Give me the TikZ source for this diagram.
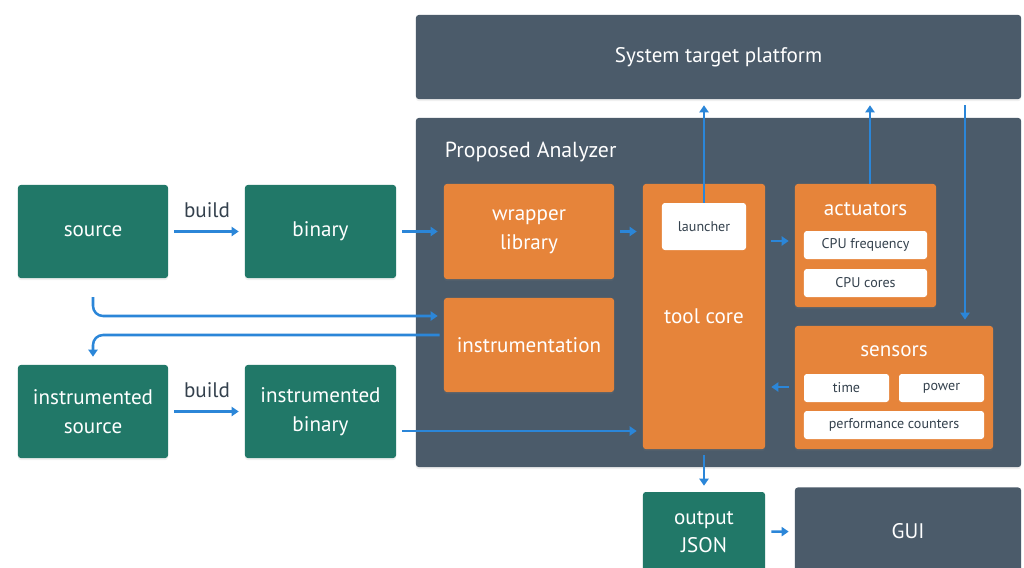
\documentclass[tikz,border=0pt]{standalone}
\usepackage{fontspec}
\setmainfont{PT Sans}
\usetikzlibrary{arrows.meta, positioning, shadows}

\definecolor{boxgreen}{HTML}{217868}
\definecolor{boxslate}{HTML}{4B5B6A}
\definecolor{boxorange}{HTML}{E6843A}
\definecolor{flowblue}{HTML}{2B86D8}
\definecolor{darktext}{HTML}{34414D}

\tikzset{
    box/.style={rounded corners=2pt, inner sep=0pt, align=center, text=white,
        font=\fontsize{15}{20.5}\selectfont,
        drop shadow={opacity=0.12, shadow xshift=0pt, shadow yshift=-1.5pt}},
    greenbox/.style={box, fill=boxgreen},
    slatebox/.style={box, fill=boxslate},
    orangebox/.style={box, fill=boxorange},
    tagbox/.style={rounded corners=2pt, inner sep=0pt, fill=white, text=darktext,
        font=\fontsize{10}{12}\selectfont, minimum height=0.7cm},
    flow/.style={draw=flowblue, line width=1.8pt, -{Triangle[length=5pt, width=6.5pt]},
        shorten <=0.15cm, shorten >=0.15cm},
}

\begin{document}
\begin{tikzpicture}[x=0.025cm, y=-0.025cm]
    \useasboundingbox (0,0) rectangle (1024,567);

    % target platform and analyzer frame
    \node[slatebox, minimum width=15.125cm, minimum height=2.1cm] (platform) at (718.5,57) {System target platform};
    \node[slatebox, minimum width=15.125cm, minimum height=8.725cm] (analyzer) at (718.5,292.5) {};
    \node[anchor=west, text=white, font=\fontsize{15.5}{20}\selectfont] (antitle) at (440,152) {Proposed Analyzer};

    % inputs
    \node[greenbox, minimum width=3.75cm, minimum height=2.325cm] (source) at (93,231.5) {source};
    \node[greenbox, minimum width=3.775cm, minimum height=2.325cm] (binary) at (320.5,231.5) {binary};
    \node[greenbox, minimum width=3.75cm, minimum height=2.325cm] (isource) at (93,411.5) {instrumented\\source};
    \node[greenbox, minimum width=3.775cm, minimum height=2.325cm] (ibinary) at (320.5,411.5) {instrumented\\binary};
    \node[text=darktext, font=\fontsize{15}{20}\selectfont] (build1) at (207,210) {build};
    \node[text=darktext, font=\fontsize{15}{20}\selectfont] (build2) at (207,390) {build};

    % analyzer parts
    \node[orangebox, minimum width=4.25cm, minimum height=2.375cm] (wrapper) at (529,231.5) {wrapper\\library};
    \node[orangebox, minimum width=4.25cm, minimum height=2.35cm] (instr) at (529,345) {instrumentation};
    \node[orangebox, minimum width=3.05cm, minimum height=6.625cm] (core) at (704,316.5) {tool core};
    \node[tagbox, minimum width=2.1cm, minimum height=1.175cm] (launcher) at (704,226.5) {launcher};

    \node[orangebox, minimum width=3.525cm, minimum height=3.075cm] (actuators) at (865.5,245.5) {};
    \node[text=white, font=\fontsize{15}{20}\selectfont] (acttitle) at (865.5,209) {actuators};
    \node[tagbox, minimum width=3.075cm] (cpufreq) at (865.5,245) {CPU frequency};
    \node[tagbox, minimum width=3.075cm] (cpucores) at (865.5,283) {CPU cores};

    \node[orangebox, minimum width=4.95cm, minimum height=3.075cm] (sensors) at (894,387.5) {};
    \node[text=white, font=\fontsize{15}{20}\selectfont] (sentitle) at (894,351) {sensors};
    \node[tagbox, minimum width=2.125cm] (time) at (846.5,388) {time};
    \node[tagbox, minimum width=2.125cm] (power) at (941.5,388) {power};
    \node[tagbox, minimum width=4.5cm] (perf) at (894,425) {performance counters};

    % outputs
    \node[greenbox, minimum width=3.05cm, minimum height=2.0cm] (output) at (704,532) {output\\JSON};
    \node[slatebox, minimum width=5.65cm, minimum height=2.175cm] (gui) at (908,531) {GUI};

    % connectors
    \draw[flow] (source) -- (binary);
    \draw[flow] (isource) -- (ibinary);
    \draw[flow] (binary) -- (wrapper);
    \draw[flow] (wrapper.east) -- (core.west |- wrapper.east);
    \draw[flow] (ibinary.east |- 0,431) -- (core.west |- 0,431);
    \draw[flow, rounded corners=0.25cm, shorten <=0.47cm] (source.south) |- (instr.west |- 0,316);
    \draw[flow, rounded corners=0.25cm, shorten <=0.1cm, shorten >=0.2cm] (instr.west |- 0,335) -| (isource.north);
    \draw[flow] (core.east |- 0,241) -- (actuators.west |- 0,241);
    \draw[flow] (sensors.west |- 0,387) -- (core.east |- 0,387);
    \draw[flow, shorten <=0pt] (launcher.north) -- (launcher.north |- platform.south);
    \draw[flow, shorten <=0pt] (actuators.north -| 870,0) -- (platform.south -| 870,0);
    \draw[flow] (platform.south -| 965,0) -- (sensors.north -| 965,0);
    \draw[flow] (core.south) -- (output.north);
    \draw[flow] (output) -- (gui);
\end{tikzpicture}
\end{document}
